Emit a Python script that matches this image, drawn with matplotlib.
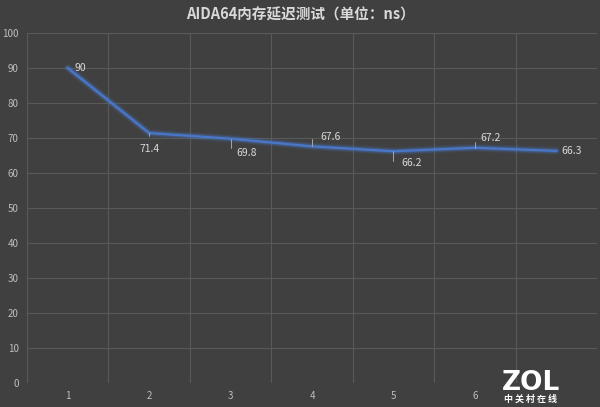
import matplotlib.pyplot as plt

plt.rcParams['font.family'] = ['Noto Sans CJK SC', 'DejaVu Sans']

x = [1, 2, 3, 4, 5, 6, 7]
latency = [90, 71.4, 69.8, 67.6, 66.2, 67.2, 66.3]
xticklabels = ['1', '2', '3', '4', '5', '6', '']  # 7 sits under the logo
yticks = [0, 10, 20, 30, 40, 50, 60, 70, 80, 90, 100]

# label offsets in pixels (dx, dy) and whether a leader line is drawn
offsets = [(7, 0), (0, -16), (6, -14), (8, 9), (8, -12), (6, 10), (5, 0)]
leaders = [False, True, True, True, True, True, False]

bg = '#404040'
txt = '#bfbfbf'

fig = plt.figure(figsize=(6, 4.07), dpi=100)
fig.patch.set_facecolor(bg)
ax = fig.add_axes([0.045, 0.059, 0.95, 0.86])
ax.set_facecolor(bg)

# glow then line
for lw, a in [(6, 0.07), (4.5, 0.13), (3.2, 0.25)]:
    ax.plot(x, latency, color='#4a7fd8', lw=lw, alpha=a, solid_capstyle='round')
ax.plot(x, latency, color='#4a76c8', lw=1.6)

for xi, yi, (dx, dy), ld in zip(x, latency, offsets, leaders):
    arrow = None
    if ld:
        arrow = dict(arrowstyle='-', color='#a6a6a6', lw=0.7, shrinkA=4, shrinkB=0,
                     connectionstyle='angle,angleA=0,angleB=90,rad=0')
    ax.annotate('%g' % yi, (xi, yi), xytext=(dx, dy), textcoords='offset pixels',
                color='#d9d9d9', fontsize=7.5, ha='left' if dx > 0 else 'center',
                va='center', arrowprops=arrow)

ax.set_xlim(0.5, 7.5)
ax.set_ylim(0, 100)
ax.set_yticks(yticks)
ax.set_xticks(x)
ax.set_xticklabels(xticklabels)
ax.set_xticks([i + 0.5 for i in range(0, 8)], minor=True)
ax.grid(True, axis='y', color='#595959', lw=0.8)
ax.grid(True, axis='x', which='minor', color='#595959', lw=0.8)
ax.tick_params(which='both', length=0, colors=txt, labelsize=7)
ax.tick_params(axis='y', pad=6)
ax.tick_params(axis='x', pad=6)
for s in ax.spines.values():
    s.set_visible(False)

fig.text(0.5, 0.965, 'AIDA64内存延迟测试（单位：ns）', color='#d9d9d9',
         fontsize=10.5, fontweight='bold', ha='center', va='center')

# watermark
fig.text(0.885, 0.06, 'ZOL', color='white', fontsize=19, fontweight='bold',
         ha='center', va='center', family='DejaVu Sans')
fig.text(0.885, 0.02, '中 关 村 在 线', color='white', fontsize=6.5,
         fontweight='bold', ha='center', va='center')

fig.savefig('out.png', dpi=100, facecolor=bg)
